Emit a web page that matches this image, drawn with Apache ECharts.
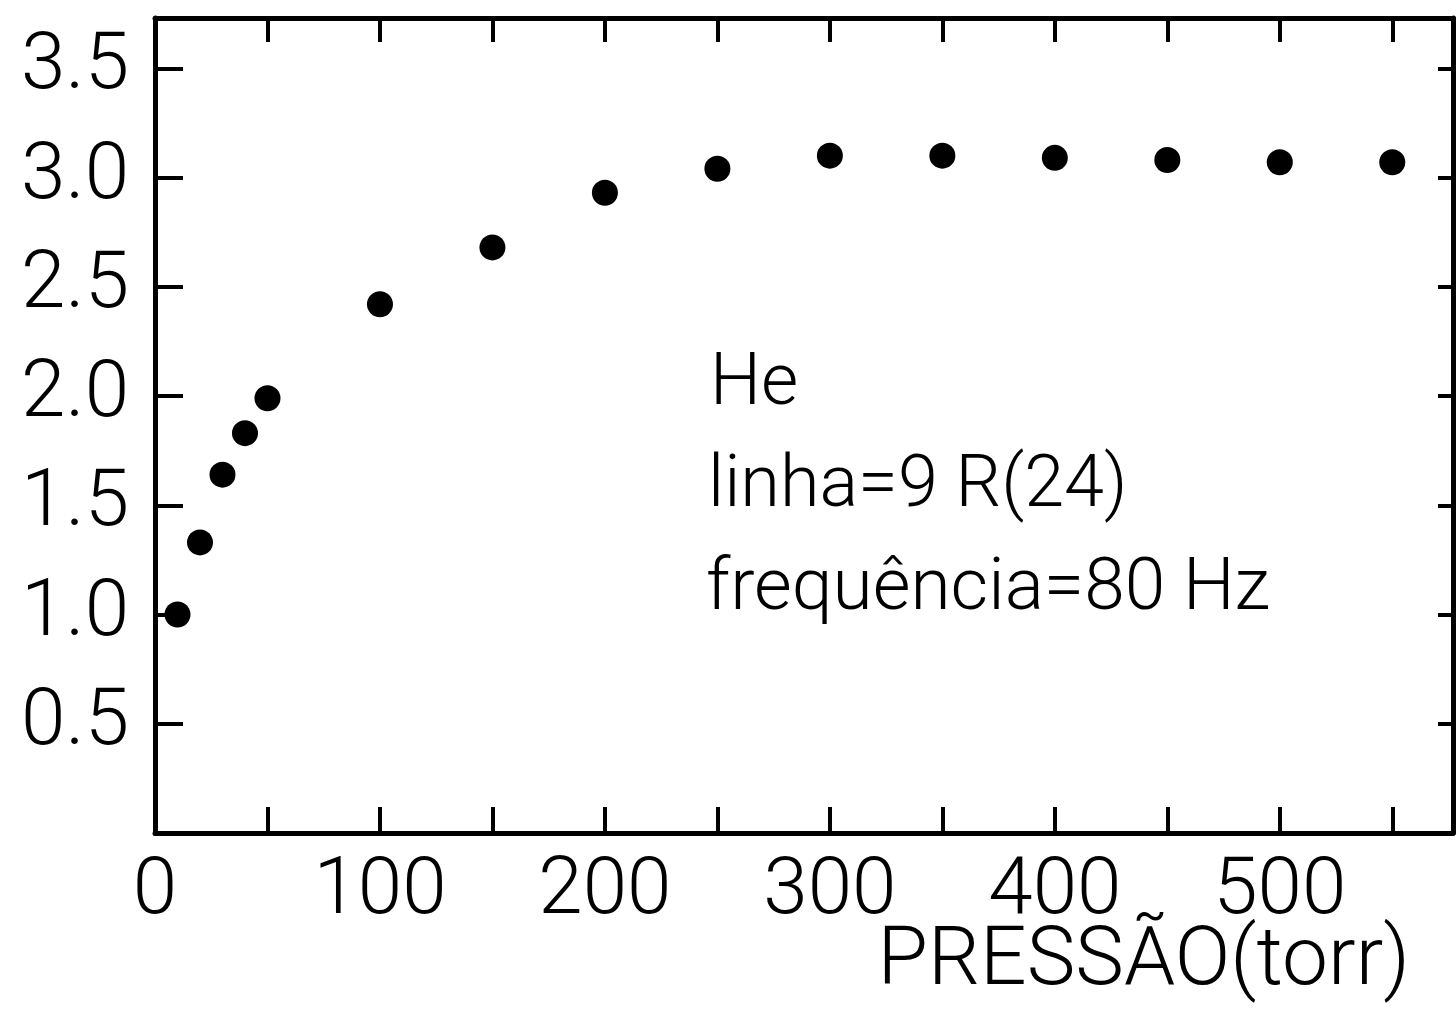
<!DOCTYPE html>
<html>
<head>
<meta charset="utf-8">
<script src="https://cdn.jsdelivr.net/npm/echarts@6/dist/echarts.min.js"></script>
<style>
html,body{margin:0;padding:0;background:#fff}
#chart{width:1456px;height:1012px}
</style>
</head>
<body>
<div id="chart"></div>
<script>
var pressao = [10, 20, 30, 40, 50, 100, 150, 200, 250, 300, 350, 400, 450, 500, 550];
var sinal = [1.00, 1.33, 1.64, 1.83, 1.99, 2.42, 2.68, 2.93, 3.04, 3.10, 3.10, 3.09, 3.08, 3.07, 3.07];

var xTicks = [50, 100, 150, 200, 250, 300, 350, 400, 450, 500, 550];
var xLabels = [0, 100, 200, 300, 400, 500];
var yTicks = [0.5, 1.0, 1.5, 2.0, 2.5, 3.0, 3.5];

var notas = ['He', 'linha=9 R(24)', 'frequência=80 Hz'];
var tituloX = 'PRESSÃO(torr)';

var FONT = 'Roboto';
var chart = echarts.init(document.getElementById('chart'));

var pontos = [];
for (var i = 0; i < pressao.length; i++) {
  pontos.push([pressao[i], sinal[i]]);
}

var axisLine = { show: true, onZero: false, lineStyle: { color: '#000', width: 5 } };

var option = {
  backgroundColor: '#fff',
  animation: false,
  grid: {
    left: 155, right: 3, top: 18, bottom: 179,
    containLabel: false,
    outerBoundsMode: 'none'
  },
  xAxis: [{
    type: 'value', position: 'bottom', min: 0, max: 577,
    axisLine: axisLine,
    splitLine: { show: false },
    axisTick: { show: true, inside: true, length: 26, customValues: xTicks, lineStyle: { color: '#000', width: 4 } },
    axisLabel: {
      show: true, customValues: xLabels, margin: 20,
      color: '#000', fontFamily: FONT, fontWeight: 300, fontSize: 80
    }
  }, {
    type: 'value', position: 'top', min: 0, max: 577,
    axisLine: axisLine,
    splitLine: { show: false },
    axisTick: { show: true, inside: true, length: 24, customValues: xTicks, lineStyle: { color: '#000', width: 4 } },
    axisLabel: { show: false }
  }],
  yAxis: [{
    type: 'value', position: 'left', min: 0, max: 3.73,
    axisLine: axisLine,
    splitLine: { show: false },
    axisTick: { show: true, inside: true, length: 28, customValues: yTicks, lineStyle: { color: '#000', width: 4 } },
    axisLabel: {
      show: true, customValues: yTicks, margin: 26,
      color: '#000', fontFamily: FONT, fontWeight: 300, fontSize: 80,
      formatter: function (v) { return v.toFixed(1); }
    }
  }, {
    type: 'value', position: 'right', min: 0, max: 3.73,
    axisLine: axisLine,
    splitLine: { show: false },
    axisTick: { show: true, inside: true, length: 15, customValues: yTicks, lineStyle: { color: '#000', width: 4 } },
    axisLabel: { show: false }
  }],
  graphic: [
    { type: 'text', left: 710, top: 350, style: { text: notas[0], fontFamily: FONT, fontWeight: 300, fontSize: 72, fill: '#000' } },
    { type: 'text', left: 708, top: 452, style: { text: notas[1], fontFamily: FONT, fontWeight: 300, fontSize: 72, fill: '#000' } },
    { type: 'text', left: 706, top: 554, style: { text: notas[2], fontFamily: FONT, fontWeight: 300, fontSize: 73, fill: '#000' } },
    { type: 'text', right: 46, top: 922, style: { text: tituloX, fontFamily: FONT, fontWeight: 300, fontSize: 82, fill: '#000' } }
  ],
  series: [{
    type: 'scatter',
    xAxisIndex: 0, yAxisIndex: 0,
    data: pontos,
    symbol: 'circle',
    symbolSize: 26,
    itemStyle: { color: '#000', opacity: 1 }
  }]
};
chart.setOption(option);
</script>
</body>
</html>
